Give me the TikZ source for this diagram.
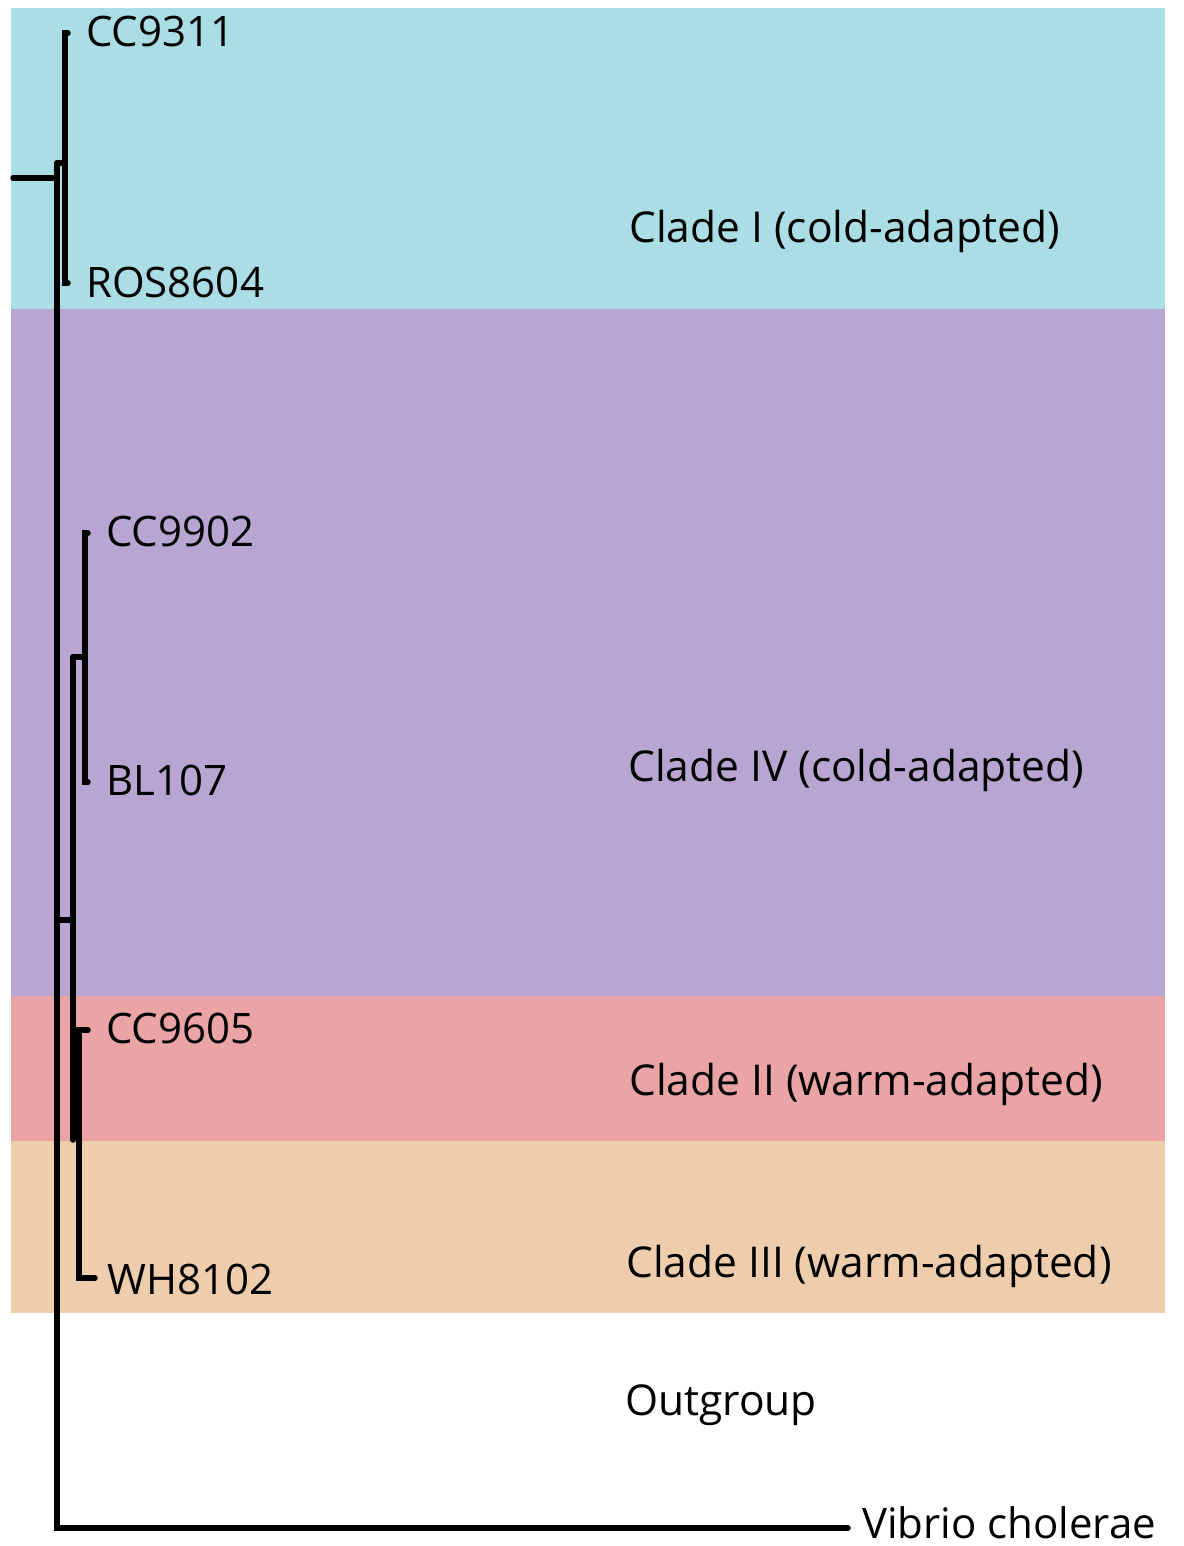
\documentclass[tikz,border=0pt]{standalone}
\usepackage{fontspec}
\setmainfont{Open Sans}
\definecolor{cladeone}{RGB}{171,221,229}
\definecolor{cladefour}{RGB}{184,165,210}
\definecolor{cladetwo}{RGB}{234,164,166}
\definecolor{cladethree}{RGB}{238,205,172}
\tikzset{
  branch/.style={line width=5.5pt, line cap=round, line join=miter},
  leaflabel/.style={anchor=base west, inner sep=0pt, font=\fontsize{42}{50}\selectfont},
  cladelabel/.style={anchor=base west, inner sep=0pt, font=\fontsize{42.5}{50}\selectfont},
}
\begin{document}
\begin{tikzpicture}[x=1pt,y=-1pt]
\useasboundingbox (0,0) rectangle (1183,1546);
% bands
\fill[cladeone]   (11,8)    rectangle (1165,309);
\fill[cladefour]  (11,309)  rectangle (1165,996);
\fill[cladetwo]   (11,996)  rectangle (1165,1141);
\fill[cladethree] (11,1141) rectangle (1165,1313);

% tree coordinates
\coordinate (stub) at (13,178);
\coordinate (rootc) at (57,178);
\coordinate (rtop) at (57,163);
\coordinate (rbot) at (57,1528);
\coordinate (cIa) at (65,163);
\coordinate (cItop) at (65,33);
\coordinate (cIbot) at (65,283);
\coordinate (tCC9311) at (68,33);
\coordinate (tROS8604) at (68,283);
\coordinate (n2a) at (57,920);
\coordinate (n2b) at (73,920);
\coordinate (n2top) at (73,657);
\coordinate (n2bot) at (73,1140);
\coordinate (cIVa) at (85,657);
\coordinate (cIVtop) at (85,533);
\coordinate (cIVbot) at (85,782);
\coordinate (tCC9902) at (88,533);
\coordinate (tBL107) at (88,782);
\coordinate (c23top) at (79,1030);
\coordinate (c23bot) at (79,1278);
\coordinate (tCC9605) at (88,1030);
\coordinate (tWH8102) at (95,1278);
\coordinate (tVib) at (848,1528);

% branches
\draw[branch] (stub) -- (rootc);
\draw[branch] (rtop) -- (rbot) -- (tVib);
\draw[branch] (rtop) -- (cIa);
\draw[branch] (tCC9311) -- (cItop) -- (cIbot) -- (tROS8604);
\draw[branch] (n2a) -- (n2b);
\draw[branch] (n2top) -- (n2bot);
\draw[branch] (n2top) -- (cIVa);
\draw[branch] (tCC9902) -- (cIVtop) -- (cIVbot) -- (tBL107);
\draw[branch] (tCC9605) -- (c23top) -- (c23bot) -- (tWH8102);

% leaf labels
\node[leaflabel] (lCC9311) at (86,47) {CC9311};
\node[leaflabel] (lROS8604) at (86,297) {ROS8604};
\node[leaflabel] (lCC9902) at (106,546) {CC9902};
\node[leaflabel] (lBL107) at (106,795) {BL107};
\node[leaflabel] (lCC9605) at (106,1043) {CC9605};
\node[leaflabel] (lWH8102) at (107,1294) {WH8102};
\node[leaflabel] (lVib) at (862,1538) {Vibrio cholerae};

% clade labels
\node[cladelabel] (kI) at (629,243) {Clade I (cold-adapted)};
\node[cladelabel] (kIV) at (628,781) {Clade IV (cold-adapted)};
\node[cladelabel] (kII) at (629,1095) {Clade II (warm-adapted)};
\node[cladelabel] (kIII) at (626,1277) {Clade III (warm-adapted)};
\node[cladelabel] (kOut) at (625,1415) {Outgroup};
\end{tikzpicture}
\end{document}
